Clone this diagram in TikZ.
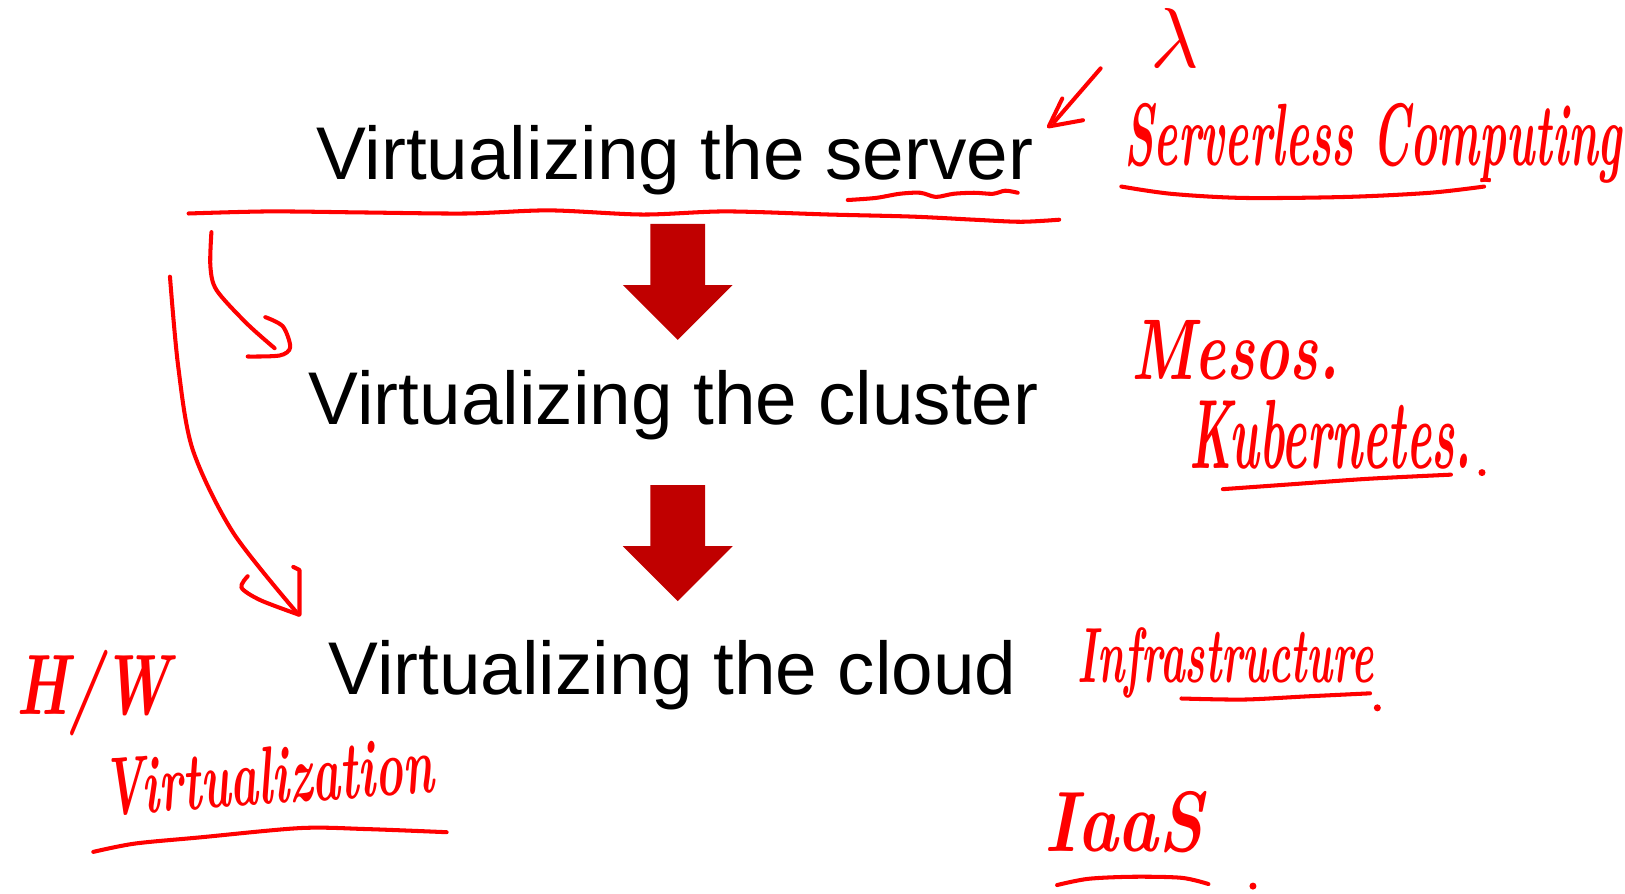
\documentclass[tikz,border=0pt]{standalone}
\usepackage{fontspec}
\usepackage{graphicx}
\newfontfamily\slidefont{Liberation Sans}
\definecolor{arrowred}{HTML}{C00000}
\newlength\pxu
\setlength\pxu{0.020726cm}
% fit a handwritten word to a width and a height above its baseline, in units
\newcommand{\hw}[3]{\resizebox{\dimexpr\pxu*#1\relax}{\dimexpr\pxu*#2\relax}{#3}}
\tikzset{
  blockdown/.pic={
    \fill[arrowred] (-26.5,0) -- (26.5,0) -- (26.5,59) -- (53,59) -- (0,112)
      -- (-53,59) -- (-26.5,59) -- cycle;
  }
}
\begin{document}
\begin{tikzpicture}[x=0.020726cm, y=-0.020726cm,
  slide/.style={font=\slidefont\fontsize{42.5}{50}\selectfont, inner sep=0pt, anchor=base},
  ink/.style={draw=red, line width=2.3pt, line cap=round, line join=round},
  hand/.style={text=red, inner sep=0pt, anchor=base, font=\bfseries\itshape},
  dot/.style={fill=red}]
\useasboundingbox (0,0) rectangle (1568,862);

% slide text
\node[slide] (server) at (651,173) {Virtualizing the server};
\node[slide] (cluster) at (650,410) {Virtualizing the cluster};
\node[slide] (cloud) at (649,670) {Virtualizing the cloud};

% block arrows between the levels
\pic at (654,216) {blockdown};
\pic at (654,468) {blockdown};

% pen strokes under the first line
\draw[ink] plot[smooth] coordinates {(182,206) (260,204) (350,205) (450,206) (530,203)
  (620,207) (700,204) (800,207) (880,209) (940,212) (985,214) (1022,212)};
\draw[ink] plot[smooth] coordinates {(818,193) (845,191) (868,187) (888,186) (903,190)
  (920,187) (940,186) (958,187) (970,184) (982,186)};

% curved arrows down the left side
\draw[ink] plot[smooth] coordinates {(204,224) (203,257) (209,280) (238,312) (265,336)};
\draw[ink] plot[smooth] coordinates {(256,306) (273,315) (280,335) (270,343) (239,344)};
\draw[ink] plot[smooth] coordinates {(164,267) (172,354) (186,434) (225,514) (288,593)};
\draw[ink] plot[smooth] coordinates {(239,556) (233,567) (251,579) (288,593)};
\draw[ink] (283,547) -- (289,550) -- (289,593);

% small arrow pointing at "server"
\draw[ink] (1062,66) -- (1017,118);
\draw[ink] (1025,95) -- (1012,122) -- (1045,116);

% handwritten notes
\node[hand, anchor=center] (lambda) at (1133.5,36.5) {\resizebox*{\dimexpr\pxu*47\relax}{\dimexpr\pxu*57\relax}{$\lambda$}};
\node[hand] (serverless) at (1325,160) {\hw{480}{60}{Serverless Computing}};
\draw[ink] plot[smooth] coordinates {(1082,180) (1130,187) (1200,191) (1300,190) (1380,186) (1432,180)};

\node[hand] (mesos) at (1192,366) {\hw{200}{57}{Mesos.}};
\node[hand] (kube) at (1284,452) {\hw{272}{66}{Kubernetes.}};
\draw[ink] plot[smooth] coordinates {(1180,472) (1250,467) (1320,462) (1400,458)};
\fill[dot] (1430,456) circle (2pt);

\node[hand] (infra) at (1182.5,659) {\hw{285}{53}{Infrastructure}};
\draw[ink] plot[smooth] coordinates {(1140,674) (1200,675) (1260,672) (1322,669)};
\fill[dot] (1329,683) circle (2pt);

\node[hand] (iaas) at (1084.5,822) {\hw{153}{58}{IaaS}};
\draw[ink] plot[smooth] coordinates {(1020,854) (1050,848) (1093,846) (1140,847) (1166,853)};
\fill[dot] (1209,855) circle (2pt);

\node[hand] (hw) at (90,689) {\hw{148}{62}{H/W}};
\node[hand, rotate=4] (virt) at (260.5,776) {\hw{319}{55}{Virtualization}};
\draw[ink] plot[smooth] coordinates {(90,822) (130,814) (193,808) (290,799) (354,800) (431,803)};
\end{tikzpicture}
\end{document}
